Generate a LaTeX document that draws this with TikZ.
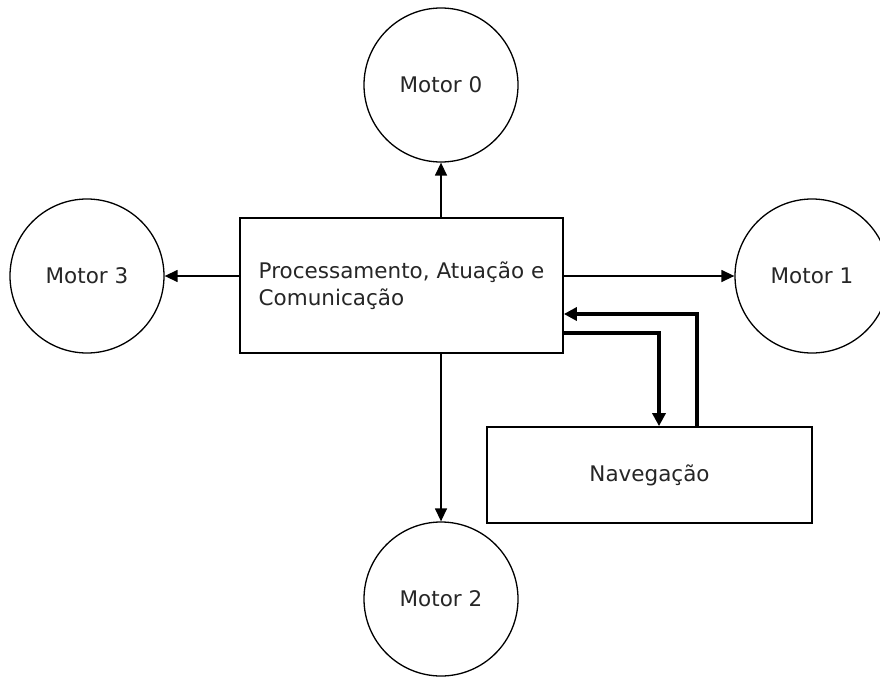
\documentclass[tikz,border=0pt]{standalone}
\usepackage{fontspec}
\setmainfont{DejaVu Sans}
\usetikzlibrary{arrows.meta}
\begin{document}
\begin{tikzpicture}[x=1pt,y=-1pt,
  motor/.style={draw, circle, line width=1.3pt, minimum size=154pt, inner sep=0pt, font=\fontsize{21.5}{26}\selectfont, text=black!85},
  box/.style={draw, rectangle, line width=1.7pt, inner sep=0pt, font=\fontsize{21.5}{27}\selectfont, text=black!85},
  arr/.style={line width=1.4pt, -{Triangle[length=13pt,width=12pt]}},
  tarr/.style={line width=3.4pt, -{Triangle[length=13pt,width=13pt]}}]
\useasboundingbox (0,0) rectangle (880,677);
\node[box, minimum width=323pt, minimum height=135pt, align=left] (main) at (401.5,285.5) {Processamento, Atuação e\\Comunicação};
\node[box, minimum width=325pt, minimum height=96pt] (nav) at (649.5,475) {Navegação};
\node[motor] (m0) at (441,85) {Motor 0};
\node[motor] (m1) at (812,276) {Motor 1};
\node[motor] (m2) at (441,599) {Motor 2};
\node[motor] (m3) at (87,276) {Motor 3};
\coordinate (c1) at (659,333);
\coordinate (c2) at (697,314);
\draw[arr] (m0 |- main.north) -- (m0.south);
\draw[arr] (main.west |- m3) -- (m3.east);
\draw[arr] (main.east |- m1) -- (m1.west);
\draw[arr] (m2 |- main.south) -- (m2.north);
\draw[tarr] (main.east |- c1) -| (nav.north -| c1);
\draw[tarr] (nav.north -| c2) |- (main.east |- c2);
\end{tikzpicture}
\end{document}
